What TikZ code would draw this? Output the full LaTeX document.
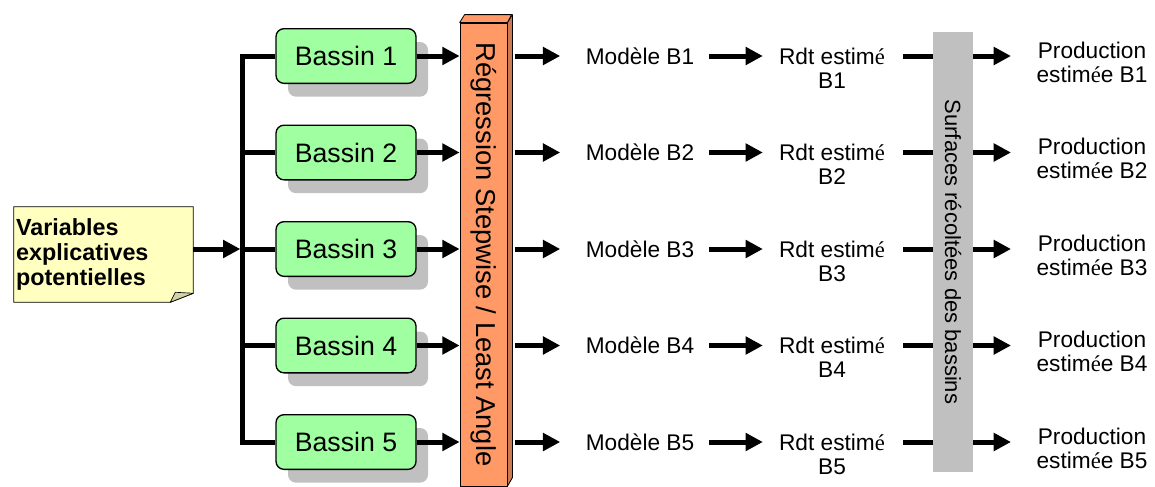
\documentclass[tikz,border=0pt]{standalone}
\usepackage{fontspec}
\setmainfont{Liberation Sans}
\newfontfamily\tnr{Liberation Serif}
\usepackage{tikz}
\usetikzlibrary{calc,arrows.meta,shadows,backgrounds}
\definecolor{notefill}{HTML}{FFFFC0}
\definecolor{notefold}{HTML}{D2D2A6}
\definecolor{vert}{HTML}{A0FFA0}
\definecolor{regfront}{HTML}{FF9966}
\definecolor{regside}{HTML}{CC7A52}
\definecolor{surfgray}{HTML}{C0C0C0}
\definecolor{ombre}{HTML}{C0C0C0}
\tikzset{
  link/.style={draw=black, line width=3.75pt},
  arr/.style={link, -{Triangle[length=13pt,width=13pt]}},
  bassin/.style={draw=black, line width=1pt, fill=vert, rounded corners=6pt, minimum width=105pt, minimum height=41pt, inner sep=0pt, font=\fontsize{20}{24}\selectfont, drop shadow={shadow xshift=9pt, shadow yshift=-10pt, fill=ombre, opacity=1, draw=none}},
  lab/.style={font=\fontsize{17}{18}\selectfont, align=center, inner sep=0pt},
  vartxt/.style={font=\bfseries\fontsize{17.5}{18.75}\selectfont, align=left, text width=131pt, minimum width=134.25pt, minimum height=71.25pt, inner xsep=1.5pt, inner ysep=0pt},
  notebox/.style={draw=black, line width=0.6pt, fill=notefill},
  notefoldst/.style={draw=black, line width=0.5pt, fill=notefold, line join=round},
  regbar/.style={draw=black, line width=0.6pt, fill=regfront, minimum width=35.25pt, minimum height=347.25pt, inner sep=0pt, font=\fontsize{20.5}{24}\selectfont},
  regface/.style={draw=black, line width=0.6pt, line join=round},
  surfbar/.style={fill=surfgray, minimum width=30pt, minimum height=330pt, inner sep=0pt, font=\fontsize{16.5}{20}\selectfont},
}
\begin{document}
\begin{tikzpicture}[x=0.75pt, y=-0.75pt]
  \useasboundingbox (0,0) rectangle (1155,486);

  % note
  \node[vartxt] (vars) at (103.5,254.5) {Variables\\explicatives\\potentielles};
  \begin{scope}[on background layer]
    \filldraw[notebox] (vars.north west) -- (vars.north east) -- ($(vars.south east)+(0,-9)$)
      -- ($(vars.south east)+(-23,0)$) -- (vars.south west) -- cycle;
    \filldraw[notefoldst] ($(vars.south east)+(-23,0)$) -- ($(vars.south east)+(-18,-10)$)
      -- ($(vars.south east)+(0,-9)$) -- cycle;
  \end{scope}

  % bar
  \node[regbar] (reg) at (483.5,254.5) {\rotatebox{-90}{Régression Stepwise / Least Angle}};
  \filldraw[regface, fill=regside] (reg.north east) -- ++(5,-8) -- ++(0,463) -- (reg.south east) -- cycle;
  \filldraw[regface, fill=regfront] (reg.north west) -- ++(5,-8) -- ++(47,0) -- (reg.north east) -- cycle;

  \foreach \i/\y in {1/56,2/152.5,3/249,4/345.5,5/442}{
    \node[bassin] (b\i) at (346,\y) {Bassin \i};
    \node[lab] (m\i) at (640,\y) {Modèle B\i};
    \node[lab] (r\i) at (832,{\y+12}) {Rdt estim{\tnr é}\\B\i};
    \node[lab] (p\i) at (1092,{\y+6}) {Production\\estim{\tnr é}e B\i};
  }

  % tree
  \draw[link] (b1.west) -- ++(-33,0) coordinate (trunk) |- (b5.west);
  \foreach \i in {2,3,4}
    \draw[link] (b\i.west) -- (trunk |- b\i.west);
  \draw[arr, shorten >=1.5pt] (vars.east |- b3.west) -- (trunk |- b3.west);

  \foreach \i in {1,...,5}{
    \draw[arr] (b\i.east) -- (reg.west |- b\i.east);
    \draw[arr, shorten <=6pt, shorten >=19pt] (reg.east |- b\i.east) -- (m\i.west);
    \draw[arr, shorten <=11pt, shorten >=12pt] (m\i.east) -- (r\i.west |- m\i.east);
    \draw[arr, shorten <=13.5pt, shorten >=19pt] (r\i.east |- m\i.east) -- (p\i.west |- m\i.east);
  }

  \node[surfbar] (surf) at (953,252) {\rotatebox{-90}{Surfaces récoltées des bassins}};
\end{tikzpicture}
\end{document}
